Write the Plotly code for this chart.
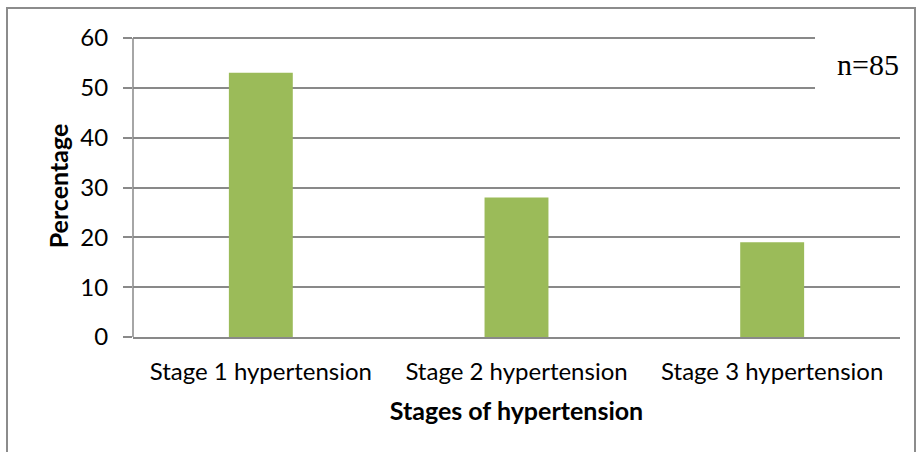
import plotly.graph_objects as go

categories = ["Stage 1 hypertension", "Stage 2 hypertension", "Stage 3 hypertension"]
percentages = [53, 28, 19]
y_ticks = [0, 10, 20, 30, 40, 50, 60]

W, H = 917, 452
L, R, T, B = 133, 17, 35, 115
pw, ph = W - L - R, H - T - B

def px(x):
    return (x - L) / pw

def py(y):
    return (H - B - y) / ph

font = "Lato, Calibri, 'Open Sans', sans-serif"
grid = "#898989"

fig = go.Figure(go.Bar(x=categories, y=percentages, marker_color="#9BBB59",
                       marker_line_width=0, width=0.25))

fig.update_layout(
    width=W, height=H, margin=dict(l=L, r=R, t=T, b=B),
    paper_bgcolor="white", plot_bgcolor="white", showlegend=False,
    font=dict(family=font, size=24, color="#000000"),
    bargap=0.75,
)
fig.update_yaxes(range=[0, 60.6], tickvals=y_ticks, showgrid=True, gridcolor=grid, gridwidth=1.5,
                 showline=False, ticks="outside", ticklen=9,
                 tickcolor=grid, tickwidth=1.5, zeroline=False, ticklabelstandoff=10,
                 title=dict(text="<b>Percentage</b>", font=dict(size=25), standoff=4))
fig.update_xaxes(showline=True, linecolor=grid, linewidth=1.5, ticks="", showgrid=False,
                 ticklabelstandoff=12,
                 title=dict(text="<b>Stages of hypertension</b>", font=dict(size=25), standoff=19))

# y axis line from 0 to 60 only (as in the reference)
fig.add_shape(type="line", xref="paper", yref="y", x0=0, x1=0, y0=0, y1=60,
              line=dict(color=grid, width=1.5), layer="above")

fig.add_shape(type="rect", xref="paper", yref="paper",
              x0=px(7), x1=px(915), y0=py(470), y1=py(8),
              line=dict(color="#8c8c8c", width=2), fillcolor="rgba(0,0,0,0)", layer="above")

fig.add_shape(type="rect", xref="paper", yref="paper",
              x0=px(815), x1=px(905), y0=py(110), y1=py(25),
              line=dict(width=0), fillcolor="white", layer="above")

fig.add_annotation(xref="paper", yref="paper", x=px(868), y=py(65), xanchor="center",
                   yanchor="middle", text="n=85", showarrow=False,
                   font=dict(family="'Liberation Serif', 'Times New Roman', serif", size=30, color="#000"))

fig.write_html("out.html", post_script="document.body.style.margin='0';",
               config={"displayModeBar": False})
